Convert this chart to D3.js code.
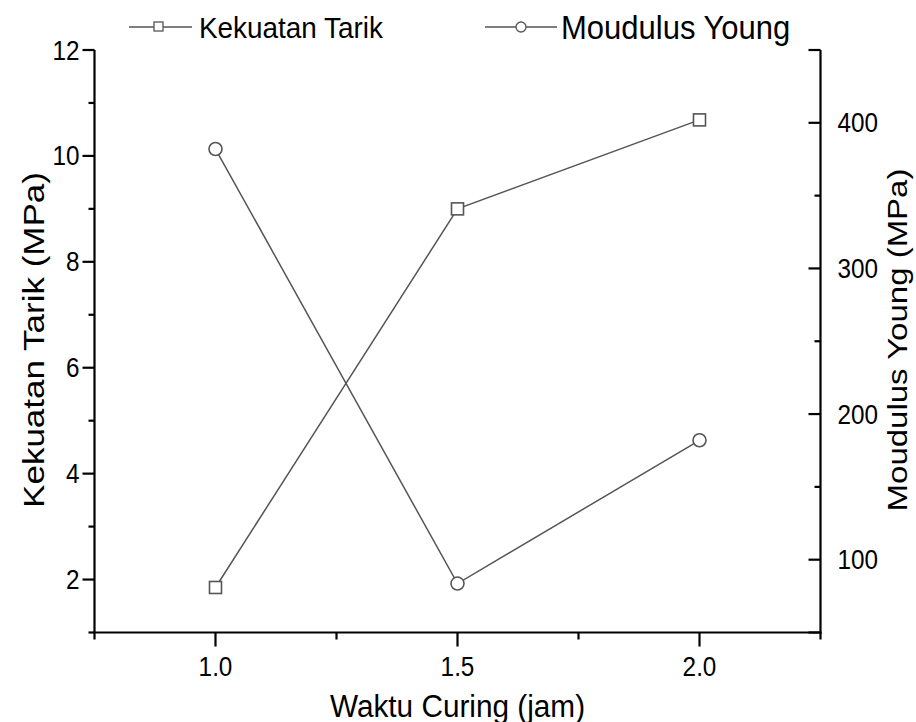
<!DOCTYPE html>
<html><head><meta charset="utf-8">
<script src="https://cdn.jsdelivr.net/npm/d3@7"></script>
<style>body{margin:0;background:#fff}svg{display:block}text{font-family:"Liberation Sans",Arial,sans-serif}</style>
</head><body><svg id="c" width="916" height="722"></svg>
<script>
const curingTime = [1.0, 1.5, 2.0];
const kekuatanTarik = [1.85, 9.0, 10.68];
const modulusYoung = [382, 83.6, 182];
const xTicks = [1.0, 1.5, 2.0];
const leftTicks = [2, 4, 6, 8, 10, 12];
const rightTicks = [100, 200, 300, 400];

const svg = d3.select("#c");
const L = 94.5, R = 820.5, T = 50, B = 632.5;
const x = d3.scaleLinear().domain([0.75, 2.25]).range([L, R]);
const yL = d3.scaleLinear().domain([1, 12]).range([B, T]);
const yR = d3.scaleLinear().domain([50, 450]).range([B, T]);
const lineCol = "#555", axCol = "#000";
const SX = 0.9;

function txt(parent, px, py, s, size, anchor, rot, sc) {
  const scale = rot ? `scale(1,${sc || 0.85})` : `scale(${sc || SX},1)`;
  return parent.append("text")
    .attr("transform", `translate(${px},${py})` + (rot ? ` rotate(${rot})` : "") + " " + scale)
    .attr("font-size", size).attr("text-anchor", anchor || "start").attr("fill", "#000").text(s);
}

// axis lines
const ax = svg.append("g").attr("stroke", axCol).attr("stroke-width", 2.2).attr("fill","none");
ax.append("line").attr("x1", L).attr("x2", L).attr("y1", T).attr("y2", B+1);
ax.append("line").attr("x1", R).attr("x2", R).attr("y1", T).attr("y2", B+1);
ax.append("line").attr("x1", L-1).attr("x2", R+1).attr("y1", B).attr("y2", B);

// left ticks (outward)
const leftMinor = [1,3,5,7,9,11];
leftTicks.forEach(v => ax.append("line").attr("x1", L-12).attr("x2", L).attr("y1", yL(v)).attr("y2", yL(v)));
leftMinor.forEach(v => ax.append("line").attr("x1", L-6).attr("x2", L).attr("y1", yL(v)).attr("y2", yL(v)));
// right ticks (inward)
rightTicks.concat([450, 50]).forEach(v => ax.append("line").attr("x1", R-12).attr("x2", R).attr("y1", yR(v)).attr("y2", yR(v)));
[150,250,350].forEach(v => ax.append("line").attr("x1", R-6).attr("x2", R).attr("y1", yR(v)).attr("y2", yR(v)));
// bottom ticks (outward)
xTicks.forEach(v => ax.append("line").attr("x1", x(v)).attr("x2", x(v)).attr("y1", B).attr("y2", B+14));
[0.75,1.25,1.75,2.25].forEach(v => ax.append("line").attr("x1", x(v)).attr("x2", x(v)).attr("y1", B).attr("y2", B+7));

// tick labels
const tl = svg.append("g");
leftTicks.forEach(v => txt(tl, L-15, yL(v)+9.5, String(v), 27, "end"));
rightTicks.forEach(v => txt(tl, R+17, yR(v)+9.5, String(v), 27, "start"));
xTicks.forEach(v => txt(tl, x(v), B+43, d3.format(".1f")(v), 27, "middle"));

// axis titles
txt(svg, (L+R)/2, 717, "Waktu Curing (jam)", 31, "middle", 0, 0.96);
txt(svg, 44, 340, "Kekuatan Tarik (MPa)", 35, "middle", -90, 0.82);
txt(svg, 907, 340, "Moudulus Young (MPa)", 33, "middle", -90, 0.85);

// series
const d1 = curingTime.map((t,i)=>[t,kekuatanTarik[i]]);
const d2 = curingTime.map((t,i)=>[t,modulusYoung[i]]);
const g = svg.append("g");
g.append("path").datum(d1).attr("fill","none").attr("stroke",lineCol).attr("stroke-width",1.5)
  .attr("d", d3.line().x(d=>x(d[0])).y(d=>yL(d[1])));
g.append("path").datum(d2).attr("fill","none").attr("stroke",lineCol).attr("stroke-width",1.5)
  .attr("d", d3.line().x(d=>x(d[0])).y(d=>yR(d[1])));
g.selectAll("rect.m").data(d1).join("rect").attr("x",d=>x(d[0])-6).attr("y",d=>yL(d[1])-6)
  .attr("width",12).attr("height",12).attr("fill","#fff").attr("stroke",lineCol).attr("stroke-width",1.6);
g.selectAll("circle.m").data(d2).join("circle").attr("cx",d=>x(d[0])).attr("cy",d=>yR(d[1])).attr("r",6.5)
  .attr("fill","#fff").attr("stroke",lineCol).attr("stroke-width",1.6);

// legend
const lg = svg.append("g");
lg.append("line").attr("x1",129).attr("x2",192).attr("y1",27).attr("y2",27).attr("stroke",lineCol).attr("stroke-width",1.5);
lg.append("rect").attr("x",154).attr("y",22).attr("width",9).attr("height",9).attr("fill","#fff").attr("stroke",lineCol).attr("stroke-width",1.3);
txt(lg, 199, 38, "Kekuatan Tarik", 30, "start", 0, 0.93);
lg.append("line").attr("x1",485).attr("x2",557).attr("y1",27).attr("y2",27).attr("stroke",lineCol).attr("stroke-width",1.5);
lg.append("circle").attr("cx",521).attr("cy",27).attr("r",5).attr("fill","#fff").attr("stroke",lineCol).attr("stroke-width",1.3);
txt(lg, 561, 39, "Moudulus Young", 33, "start", 0, 0.94);
</script></body></html>
